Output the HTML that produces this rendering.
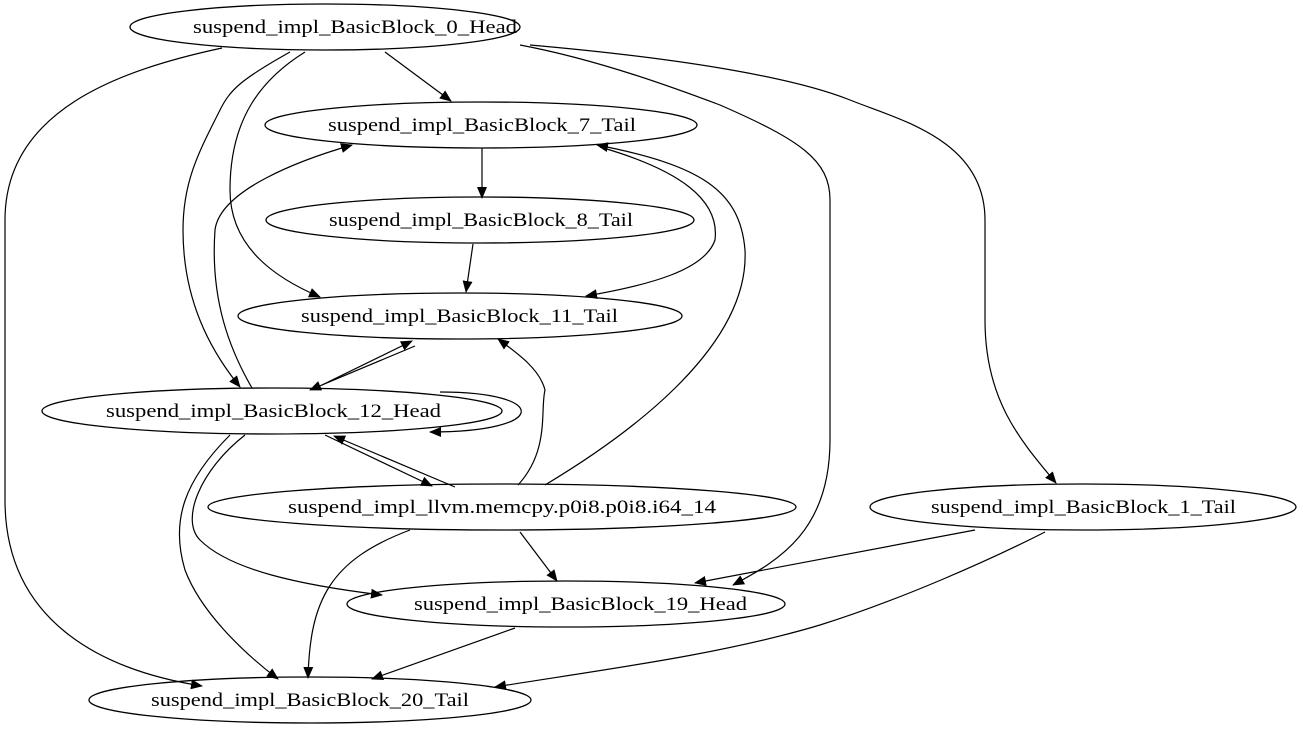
<!DOCTYPE html>
<html><head><meta charset="utf-8"><style>
html,body{margin:0;padding:0;background:#fff;}
svg{display:block}
text{font-family:"Liberation Serif",serif;font-size:19px;fill:#000;}
</style></head><body>
<svg width="1303" height="731" viewBox="0 0 1303 731" xmlns="http://www.w3.org/2000/svg">
<defs><marker id="a" markerWidth="12" markerHeight="10" refX="11" refY="5" orient="auto" markerUnits="userSpaceOnUse"><path d="M0,0 L12,5 L0,10 z" fill="#000"/></marker></defs>
<g fill="none" stroke="#000" stroke-width="1.3">
<ellipse cx="325" cy="27" rx="195" ry="23"/>
<ellipse cx="481" cy="125" rx="216" ry="23"/>
<ellipse cx="480" cy="220" rx="214" ry="23"/>
<ellipse cx="460" cy="316" rx="222" ry="23"/>
<ellipse cx="272" cy="411" rx="230" ry="23"/>
<ellipse cx="502" cy="507" rx="294" ry="23"/>
<ellipse cx="1083" cy="507" rx="213" ry="23"/>
<ellipse cx="566" cy="604" rx="219" ry="23"/>
<ellipse cx="310" cy="700" rx="221" ry="23"/>
</g>
<g fill="none" stroke="#000" stroke-width="1.2" marker-end="url(#a)">
<path d="M385,52 L451,101"/>
<path d="M305,52 C260,80 230,120 230,190 C230,250 280,280 320,297"/>
<path d="M290,52 C240,80 230,90 220,110 C200,150 183,180 183,230 C183,300 210,350 240,387"/>
<path d="M222,48 C120,70 5,110 5,220 V500 C5,620 100,670 202,686"/>
<path d="M520,45 C600,60 680,90 720,105 C800,140 830,160 830,200 V440 C830,530 780,560 733,585"/>
<path d="M530,45 C700,60 800,80 850,100 C900,120 985,140 985,220 V320 C985,400 1020,440 1056,483"/>
<path d="M482,148 L482,198"/>
<path d="M473,244 L466,292"/>
<path d="M600,147 C680,170 720,200 715,240 C705,270 650,285 586,296"/>
<path d="M545,485 C620,440 750,350 745,250 C740,190 700,165 597,145"/>
<path d="M252,388 C230,350 210,300 215,230 C220,190 300,160 352,145"/>
<path d="M322,385 L412,341"/>
<path d="M415,346 L310,390"/>
<path d="M440,392 C550,392 550,432 430,432"/>
<path d="M325,435 L432,486"/>
<path d="M455,487 L334,436"/>
<path d="M518,485 C550,450 540,410 545,390 C540,370 520,355 498,339"/>
<path d="M230,435 C185,480 170,520 185,570 C200,610 240,650 278,679"/>
<path d="M245,435 C200,470 180,520 200,540 C230,570 300,585 382,595"/>
<path d="M410,530 C330,560 310,600 308,678"/>
<path d="M520,532 L557,581"/>
<path d="M975,530 L695,583"/>
<path d="M1045,532 C990,560 900,600 820,625 C720,655 600,670 495,687"/>
<path d="M515,628 L372,679"/>
</g>
<g>
<text x="193" y="33" textLength="324" lengthAdjust="spacingAndGlyphs">suspend_impl_BasicBlock_0_Head</text>
<text x="328" y="131" textLength="308" lengthAdjust="spacingAndGlyphs">suspend_impl_BasicBlock_7_Tail</text>
<text x="329" y="226" textLength="304" lengthAdjust="spacingAndGlyphs">suspend_impl_BasicBlock_8_Tail</text>
<text x="301" y="322" textLength="317" lengthAdjust="spacingAndGlyphs">suspend_impl_BasicBlock_11_Tail</text>
<text x="106" y="417" textLength="335" lengthAdjust="spacingAndGlyphs">suspend_impl_BasicBlock_12_Head</text>
<text x="288" y="513" textLength="428" lengthAdjust="spacingAndGlyphs">suspend_impl_llvm.memcpy.p0i8.p0i8.i64_14</text>
<text x="931" y="513" textLength="305" lengthAdjust="spacingAndGlyphs">suspend_impl_BasicBlock_1_Tail</text>
<text x="414" y="610" textLength="333" lengthAdjust="spacingAndGlyphs">suspend_impl_BasicBlock_19_Head</text>
<text x="151" y="706" textLength="318" lengthAdjust="spacingAndGlyphs">suspend_impl_BasicBlock_20_Tail</text>
</g>
</svg>
</body></html>
